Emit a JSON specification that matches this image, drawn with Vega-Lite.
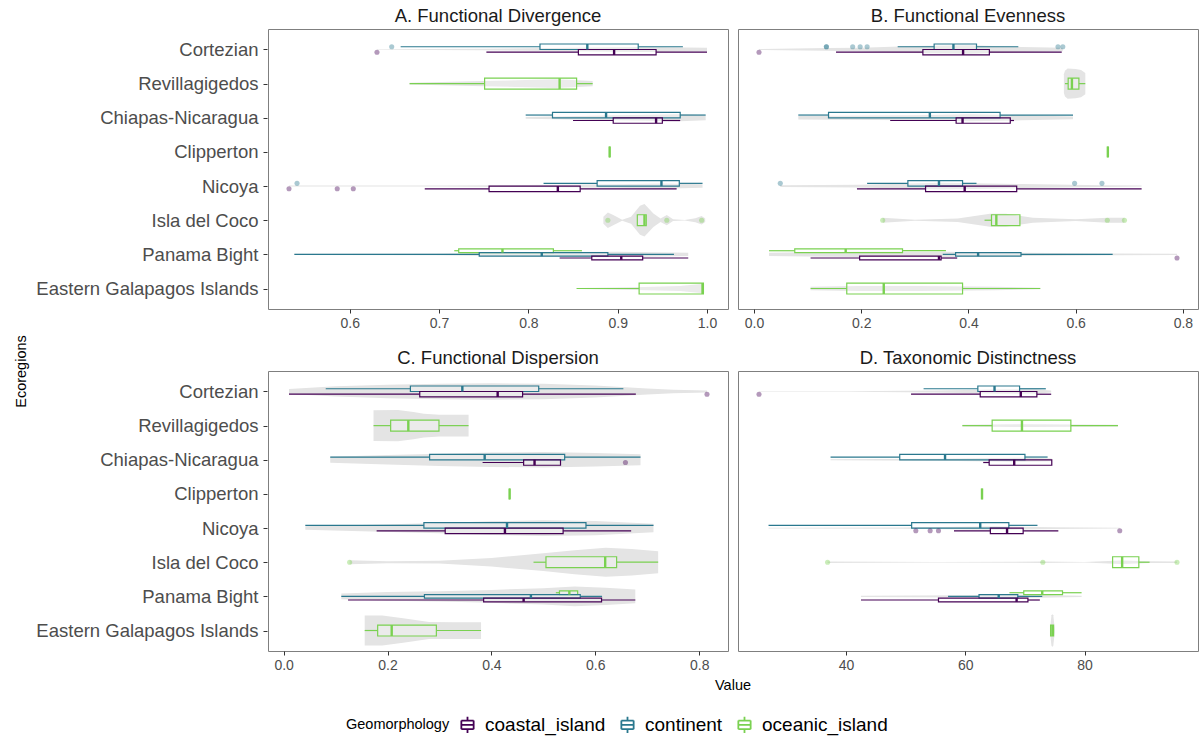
{
  "$schema": "https://vega.github.io/schema/vega-lite/v6.json",
  "background": "white",
  "padding": {"left": 14, "right": 2, "top": 6, "bottom": 0},
  "data": {"values": [
    {"kind":"b","metric":"A. Functional Divergence","eco":"Cortezian","geo":"continent","lo":0.657,"q1":0.813,"med":0.866,"q3":0.923,"hi":0.973,"out":[0.647]},
    {"kind":"b","metric":"A. Functional Divergence","eco":"Cortezian","geo":"coastal_island","lo":0.753,"q1":0.856,"med":0.896,"q3":0.943,"hi":1.0,"out":[0.6305]},
    {"kind":"b","metric":"A. Functional Divergence","eco":"Revillagigedos","geo":"oceanic_island","lo":0.667,"q1":0.751,"med":0.835,"q3":0.854,"hi":0.872},
    {"kind":"b","metric":"A. Functional Divergence","eco":"Chiapas-Nicaragua","geo":"continent","lo":0.797,"q1":0.827,"med":0.887,"q3":0.970,"hi":0.9985},
    {"kind":"b","metric":"A. Functional Divergence","eco":"Chiapas-Nicaragua","geo":"coastal_island","lo":0.850,"q1":0.895,"med":0.943,"q3":0.950,"hi":0.970},
    {"kind":"b","metric":"A. Functional Divergence","eco":"Clipperton","geo":"oceanic_island","lo":0.891,"q1":0.891,"med":0.891,"q3":0.891,"hi":0.891},
    {"kind":"b","metric":"A. Functional Divergence","eco":"Nicoya","geo":"continent","lo":0.817,"q1":0.877,"med":0.949,"q3":0.969,"hi":0.995,"out":[0.541]},
    {"kind":"b","metric":"A. Functional Divergence","eco":"Nicoya","geo":"coastal_island","lo":0.684,"q1":0.756,"med":0.833,"q3":0.858,"hi":0.966,"out":[0.532,0.586,0.604]},
    {"kind":"b","metric":"A. Functional Divergence","eco":"Isla del Coco","geo":"oceanic_island","lo":0.922,"q1":0.922,"med":0.930,"q3":0.932,"hi":0.932,"out":[0.889,0.955,0.994]},
    {"kind":"b","metric":"A. Functional Divergence","eco":"Panama Bight","geo":"oceanic_island","lo":0.717,"q1":0.722,"med":0.771,"q3":0.828,"hi":0.860},
    {"kind":"b","metric":"A. Functional Divergence","eco":"Panama Bight","geo":"continent","lo":0.538,"q1":0.745,"med":0.815,"q3":0.889,"hi":0.963},
    {"kind":"b","metric":"A. Functional Divergence","eco":"Panama Bight","geo":"coastal_island","lo":0.835,"q1":0.871,"med":0.904,"q3":0.928,"hi":0.979},
    {"kind":"b","metric":"A. Functional Divergence","eco":"Eastern Galapagos Islands","geo":"oceanic_island","lo":0.854,"q1":0.924,"med":0.995,"q3":0.996,"hi":0.996},

    {"kind":"b","metric":"B. Functional Evenness","eco":"Cortezian","geo":"continent","lo":0.268,"q1":0.336,"med":0.372,"q3":0.415,"hi":0.493,"out":[0.135,0.135,0.184,0.198,0.211,0.567,0.576]},
    {"kind":"b","metric":"B. Functional Evenness","eco":"Cortezian","geo":"coastal_island","lo":0.153,"q1":0.315,"med":0.390,"q3":0.439,"hi":0.574,"out":[0.0093]},
    {"kind":"b","metric":"B. Functional Evenness","eco":"Revillagigedos","geo":"oceanic_island","lo":0.580,"q1":0.586,"med":0.593,"q3":0.606,"hi":0.618},
    {"kind":"b","metric":"B. Functional Evenness","eco":"Chiapas-Nicaragua","geo":"continent","lo":0.0826,"q1":0.139,"med":0.328,"q3":0.459,"hi":0.595},
    {"kind":"b","metric":"B. Functional Evenness","eco":"Chiapas-Nicaragua","geo":"coastal_island","lo":0.254,"q1":0.377,"med":0.389,"q3":0.478,"hi":0.485},
    {"kind":"b","metric":"B. Functional Evenness","eco":"Clipperton","geo":"oceanic_island","lo":0.660,"q1":0.660,"med":0.660,"q3":0.660,"hi":0.660},
    {"kind":"b","metric":"B. Functional Evenness","eco":"Nicoya","geo":"continent","lo":0.211,"q1":0.287,"med":0.345,"q3":0.389,"hi":0.415,"out":[0.049,0.598,0.649]},
    {"kind":"b","metric":"B. Functional Evenness","eco":"Nicoya","geo":"coastal_island","lo":0.192,"q1":0.320,"med":0.393,"q3":0.490,"hi":0.723},
    {"kind":"b","metric":"B. Functional Evenness","eco":"Isla del Coco","geo":"oceanic_island","lo":0.430,"q1":0.443,"med":0.452,"q3":0.496,"hi":0.496,"out":[0.240,0.659,0.691]},
    {"kind":"b","metric":"B. Functional Evenness","eco":"Panama Bight","geo":"oceanic_island","lo":0.028,"q1":0.076,"med":0.171,"q3":0.277,"hi":0.358},
    {"kind":"b","metric":"B. Functional Evenness","eco":"Panama Bight","geo":"continent","lo":0.352,"q1":0.376,"med":0.418,"q3":0.498,"hi":0.669},
    {"kind":"b","metric":"B. Functional Evenness","eco":"Panama Bight","geo":"coastal_island","lo":0.1055,"q1":0.197,"med":0.345,"q3":0.349,"hi":0.379,"out":[0.789]},
    {"kind":"b","metric":"B. Functional Evenness","eco":"Eastern Galapagos Islands","geo":"oceanic_island","lo":0.1055,"q1":0.173,"med":0.242,"q3":0.389,"hi":0.534},

    {"kind":"b","metric":"C. Functional Dispersion","eco":"Cortezian","geo":"continent","lo":0.081,"q1":0.244,"med":0.344,"q3":0.491,"hi":0.654},
    {"kind":"b","metric":"C. Functional Dispersion","eco":"Cortezian","geo":"coastal_island","lo":0.0103,"q1":0.262,"med":0.412,"q3":0.460,"hi":0.678,"out":[0.815]},
    {"kind":"b","metric":"C. Functional Dispersion","eco":"Revillagigedos","geo":"oceanic_island","lo":0.173,"q1":0.206,"med":0.240,"q3":0.299,"hi":0.356},
    {"kind":"b","metric":"C. Functional Dispersion","eco":"Chiapas-Nicaragua","geo":"continent","lo":0.0897,"q1":0.281,"med":0.387,"q3":0.541,"hi":0.687},
    {"kind":"b","metric":"C. Functional Dispersion","eco":"Chiapas-Nicaragua","geo":"coastal_island","lo":0.383,"q1":0.462,"med":0.483,"q3":0.533,"hi":0.533,"out":[0.658]},
    {"kind":"b","metric":"C. Functional Dispersion","eco":"Clipperton","geo":"oceanic_island","lo":0.435,"q1":0.435,"med":0.435,"q3":0.435,"hi":0.435},
    {"kind":"b","metric":"C. Functional Dispersion","eco":"Nicoya","geo":"continent","lo":0.0417,"q1":0.270,"med":0.430,"q3":0.582,"hi":0.712},
    {"kind":"b","metric":"C. Functional Dispersion","eco":"Nicoya","geo":"coastal_island","lo":0.179,"q1":0.311,"med":0.426,"q3":0.538,"hi":0.669},
    {"kind":"b","metric":"C. Functional Dispersion","eco":"Isla del Coco","geo":"oceanic_island","lo":0.481,"q1":0.505,"med":0.619,"q3":0.641,"hi":0.721,"out":[0.127]},
    {"kind":"b","metric":"C. Functional Dispersion","eco":"Panama Bight","geo":"oceanic_island","lo":0.524,"q1":0.531,"med":0.550,"q3":0.566,"hi":0.566},
    {"kind":"b","metric":"C. Functional Dispersion","eco":"Panama Bight","geo":"continent","lo":0.111,"q1":0.271,"med":0.476,"q3":0.571,"hi":0.613},
    {"kind":"b","metric":"C. Functional Dispersion","eco":"Panama Bight","geo":"coastal_island","lo":0.124,"q1":0.385,"med":0.462,"q3":0.612,"hi":0.677},
    {"kind":"b","metric":"C. Functional Dispersion","eco":"Eastern Galapagos Islands","geo":"oceanic_island","lo":0.156,"q1":0.181,"med":0.208,"q3":0.294,"hi":0.380},

    {"kind":"b","metric":"D. Taxonomic Distinctness","eco":"Cortezian","geo":"continent","lo":53.0,"q1":62.1,"med":64.9,"q3":69.1,"hi":73.5},
    {"kind":"b","metric":"D. Taxonomic Distinctness","eco":"Cortezian","geo":"coastal_island","lo":50.9,"q1":62.5,"med":69.3,"q3":72.0,"hi":74.4,"out":[25.4]},
    {"kind":"b","metric":"D. Taxonomic Distinctness","eco":"Revillagigedos","geo":"oceanic_island","lo":59.5,"q1":64.5,"med":69.5,"q3":77.7,"hi":85.6},
    {"kind":"b","metric":"D. Taxonomic Distinctness","eco":"Chiapas-Nicaragua","geo":"continent","lo":37.4,"q1":49.0,"med":56.6,"q3":70.0,"hi":73.8},
    {"kind":"b","metric":"D. Taxonomic Distinctness","eco":"Chiapas-Nicaragua","geo":"coastal_island","lo":63.0,"q1":64.0,"med":68.2,"q3":74.5,"hi":74.5},
    {"kind":"b","metric":"D. Taxonomic Distinctness","eco":"Clipperton","geo":"oceanic_island","lo":62.8,"q1":62.8,"med":62.8,"q3":62.8,"hi":62.8},
    {"kind":"b","metric":"D. Taxonomic Distinctness","eco":"Nicoya","geo":"continent","lo":27.0,"q1":51.0,"med":62.5,"q3":67.3,"hi":72.1},
    {"kind":"b","metric":"D. Taxonomic Distinctness","eco":"Nicoya","geo":"coastal_island","lo":58.1,"q1":64.2,"med":67.0,"q3":69.7,"hi":75.6,"out":[51.7,54.1,55.5,85.9]},
    {"kind":"b","metric":"D. Taxonomic Distinctness","eco":"Isla del Coco","geo":"oceanic_island","lo":84.7,"q1":84.7,"med":86.3,"q3":89.1,"hi":90.9,"out":[36.9,73.0,95.5]},
    {"kind":"b","metric":"D. Taxonomic Distinctness","eco":"Panama Bight","geo":"oceanic_island","lo":67.4,"q1":69.8,"med":72.9,"q3":76.3,"hi":79.5},
    {"kind":"b","metric":"D. Taxonomic Distinctness","eco":"Panama Bight","geo":"continent","lo":57.1,"q1":62.3,"med":65.6,"q3":68.8,"hi":72.9},
    {"kind":"b","metric":"D. Taxonomic Distinctness","eco":"Panama Bight","geo":"coastal_island","lo":42.5,"q1":55.5,"med":68.6,"q3":70.5,"hi":72.5},
    {"kind":"b","metric":"D. Taxonomic Distinctness","eco":"Eastern Galapagos Islands","geo":"oceanic_island","lo":74.3,"q1":74.3,"med":74.6,"q3":74.8,"hi":74.8},

    {"kind":"v","metric":"A. Functional Divergence","eco":"Cortezian","xs":[0.6305,0.75,0.85,0.93,1.0],"ws":[0.02,0.04,0.1,0.15,0.1]},
    {"kind":"v","metric":"A. Functional Divergence","eco":"Revillagigedos","xs":[0.667,0.75,0.83,0.872],"ws":[0.05,0.15,0.25,0.15]},
    {"kind":"v","metric":"A. Functional Divergence","eco":"Chiapas-Nicaragua","xs":[0.797,0.9,0.97,0.9985],"ws":[0.05,0.15,0.2,0.15]},
    {"kind":"v","metric":"A. Functional Divergence","eco":"Nicoya","xs":[0.532,0.6,0.7,0.8,0.9,0.95,0.995],"ws":[0.03,0.03,0.03,0.06,0.1,0.15,0.1]},
    {"kind":"v","metric":"A. Functional Divergence","eco":"Isla del Coco","xs":[0.884,0.889,0.895,0.905,0.915,0.925,0.93,0.94,0.948,0.955,0.962,0.975,0.987,0.994,0.998],"ws":[0.2,0.45,0.3,0.03,0.2,0.85,0.95,0.4,0.1,0.3,0.05,0.02,0.12,0.25,0.1]},
    {"kind":"v","metric":"A. Functional Divergence","eco":"Panama Bight","xs":[0.538,0.7,0.8,0.9,0.979],"ws":[0.03,0.05,0.12,0.15,0.1]},
    {"kind":"v","metric":"A. Functional Divergence","eco":"Eastern Galapagos Islands","xs":[0.854,0.92,0.97,0.996],"ws":[0.03,0.08,0.15,0.28]},

    {"kind":"v","metric":"B. Functional Evenness","eco":"Cortezian","xs":[0.0093,0.135,0.2,0.3,0.4,0.5,0.576],"ws":[0.03,0.08,0.1,0.2,0.25,0.15,0.1]},
    {"kind":"v","metric":"B. Functional Evenness","eco":"Revillagigedos","xs":[0.578,0.58,0.585,0.6,0.61,0.618],"ws":[0.55,0.75,0.88,0.86,0.8,0.62]},
    {"kind":"v","metric":"B. Functional Evenness","eco":"Chiapas-Nicaragua","xs":[0.0826,0.15,0.3,0.4,0.5,0.595],"ws":[0.1,0.12,0.15,0.2,0.15,0.08]},
    {"kind":"v","metric":"B. Functional Evenness","eco":"Nicoya","xs":[0.049,0.2,0.35,0.5,0.65,0.723],"ws":[0.05,0.08,0.2,0.12,0.05,0.03]},
    {"kind":"v","metric":"B. Functional Evenness","eco":"Isla del Coco","xs":[0.24,0.3,0.38,0.44,0.47,0.52,0.6,0.66,0.691],"ws":[0.15,0.03,0.1,0.38,0.38,0.15,0.05,0.15,0.15]},
    {"kind":"v","metric":"B. Functional Evenness","eco":"Panama Bight","xs":[0.028,0.1,0.2,0.35,0.5,0.67,0.789],"ws":[0.1,0.12,0.15,0.15,0.1,0.05,0.03]},
    {"kind":"v","metric":"B. Functional Evenness","eco":"Eastern Galapagos Islands","xs":[0.1055,0.2,0.3,0.45,0.534],"ws":[0.1,0.15,0.15,0.1,0.05]},

    {"kind":"v","metric":"C. Functional Dispersion","eco":"Cortezian","xs":[0.0103,0.1,0.2,0.3,0.4,0.5,0.6,0.7,0.75,0.815],"ws":[0.15,0.3,0.4,0.45,0.48,0.45,0.35,0.18,0.1,0.06]},
    {"kind":"v","metric":"C. Functional Dispersion","eco":"Revillagigedos","xs":[0.173,0.22,0.25,0.27,0.3,0.356],"ws":[0.9,0.92,0.8,0.7,0.64,0.64]},
    {"kind":"v","metric":"C. Functional Dispersion","eco":"Chiapas-Nicaragua","xs":[0.0897,0.2,0.3,0.4,0.5,0.6,0.687],"ws":[0.18,0.28,0.36,0.42,0.45,0.4,0.32]},
    {"kind":"v","metric":"C. Functional Dispersion","eco":"Nicoya","xs":[0.0417,0.15,0.3,0.4,0.5,0.6,0.712],"ws":[0.1,0.18,0.3,0.4,0.46,0.42,0.25]},
    {"kind":"v","metric":"C. Functional Dispersion","eco":"Isla del Coco","xs":[0.127,0.2,0.3,0.4,0.5,0.56,0.62,0.67,0.721],"ws":[0.12,0.06,0.08,0.25,0.52,0.7,0.85,0.78,0.64]},
    {"kind":"v","metric":"C. Functional Dispersion","eco":"Panama Bight","xs":[0.111,0.2,0.3,0.4,0.5,0.56,0.62,0.677],"ws":[0.17,0.25,0.3,0.38,0.48,0.58,0.5,0.4]},
    {"kind":"v","metric":"C. Functional Dispersion","eco":"Eastern Galapagos Islands","xs":[0.156,0.19,0.23,0.28,0.33,0.38],"ws":[0.88,0.88,0.72,0.5,0.49,0.49]},

    {"kind":"v","metric":"D. Taxonomic Distinctness","eco":"Cortezian","xs":[25.4,40,55,65,72,74.4],"ws":[0.02,0.02,0.06,0.12,0.12,0.06]},
    {"kind":"v","metric":"D. Taxonomic Distinctness","eco":"Revillagigedos","xs":[59.5,70,85.6],"ws":[0.05,0.08,0.05]},
    {"kind":"v","metric":"D. Taxonomic Distinctness","eco":"Chiapas-Nicaragua","xs":[37.4,55,70,74.5],"ws":[0.03,0.06,0.12,0.08]},
    {"kind":"v","metric":"D. Taxonomic Distinctness","eco":"Nicoya","xs":[27,50,65,75,85.9],"ws":[0.02,0.04,0.1,0.05,0.02]},
    {"kind":"v","metric":"D. Taxonomic Distinctness","eco":"Isla del Coco","xs":[36.9,55,73,80,86,91,95.5],"ws":[0.04,0.01,0.04,0.02,0.1,0.05,0.04]},
    {"kind":"v","metric":"D. Taxonomic Distinctness","eco":"Panama Bight","xs":[42.5,60,70,79.5],"ws":[0.03,0.06,0.1,0.04]},
    {"kind":"v","metric":"D. Taxonomic Distinctness","eco":"Eastern Galapagos Islands","xs":[74.2,74.45,74.6,74.75,75.0],"ws":[0.1,0.9,0.95,0.9,0.1]}
  ]},
  "title": {"text": "Ecoregions", "orient": "left", "anchor": "middle", "fontSize": 14.5, "fontWeight": "normal", "color": "#000000", "offset": 6},
  "transform": [
    {"joinaggregate": [{"op": "count", "as": "n"}], "groupby": ["metric", "eco", "kind"]},
    {"window": [{"op": "row_number", "as": "k"}], "groupby": ["metric", "eco", "kind"], "sort": [{"field": "geo", "order": "ascending"}]},
    {"calculate": "indexof(['Cortezian','Revillagigedos','Chiapas-Nicaragua','Clipperton','Nicoya','Isla del Coco','Panama Bight','Eastern Galapagos Islands'], datum.eco)", "as": "idx"},
    {"calculate": "datum.idx + 0.32 * ((datum.n + 1) / 2 - datum.k) / datum.n", "as": "yc"},
    {"calculate": "datum.yc - 0.16 / datum.n", "as": "y0"},
    {"calculate": "datum.yc + 0.16 / datum.n", "as": "y1"}
  ],
  "facet": {"field": "metric", "type": "nominal", "title": "Value",
    "sort": ["A. Functional Divergence", "B. Functional Evenness", "C. Functional Dispersion", "D. Taxonomic Distinctness"],
    "header": {"labelFontSize": 18.5, "labelColor": "#1a1a1a", "labelPadding": 4,
      "titleOrient": "bottom", "titleFontSize": 14.5, "titleFontWeight": "normal", "titleColor": "#000000", "titlePadding": 6}},
  "columns": 2,
  "spacing": {"row": 17, "column": 8},
  "resolve": {"scale": {"x": "independent"}},
  "spec": {
    "width": 460,
    "height": 280,
    "layer": [
      {
        "transform": [{"filter": "datum.kind == 'v'"}, {"flatten": ["xs", "ws"], "as": ["x", "w"]},
          {"calculate": "datum.idx - datum.w / 2", "as": "v0"}, {"calculate": "datum.idx + datum.w / 2", "as": "v1"}],
        "mark": {"type": "area", "color": "#e4e4e4", "orient": "vertical"},
        "encoding": {
          "x": {"field": "x", "type": "quantitative",
            "scale": {"nice": false, "zero": false, "padding": 21},
            "axis": {"title": null, "tickCount": 5, "labelExpr": "abs(datum.value) >= 10 ? format(datum.value, 'd') : format(datum.value, '.1f')"}},
          "y": {"field": "v0", "type": "quantitative",
            "scale": {"domain": [-0.6, 7.6], "reverse": true, "nice": false, "zero": false},
            "axis": {"title": null, "values": [0, 1, 2, 3, 4, 5, 6, 7], "tickCount": 8, "labelFontSize": 18.5, "labelLimit": 0, "labelPadding": 5, "labelOverlap": false, "labelBound": false, "labelFlush": false,
              "labelExpr": "['Cortezian','Revillagigedos','Chiapas-Nicaragua','Clipperton','Nicoya','Isla del Coco','Panama Bight','Eastern Galapagos Islands'][datum.value]"}},
          "y2": {"field": "v1"},
          "detail": {"field": "eco"}
        }
      },
      {
        "transform": [{"filter": "datum.kind == 'b'"}],
        "mark": {"type": "rule", "strokeWidth": 1.2},
        "encoding": {
          "x": {"field": "lo", "type": "quantitative"},
          "x2": {"field": "q1"},
          "y": {"field": "yc", "type": "quantitative",
            "axis": {"title": null, "values": [0, 1, 2, 3, 4, 5, 6, 7], "tickCount": 8, "labelFontSize": 18.5, "labelLimit": 0, "labelPadding": 5, "labelOverlap": false, "labelBound": false, "labelFlush": false,
              "labelExpr": "['Cortezian','Revillagigedos','Chiapas-Nicaragua','Clipperton','Nicoya','Isla del Coco','Panama Bight','Eastern Galapagos Islands'][datum.value]"}},
          "stroke": {"field": "geo", "type": "nominal",
            "scale": {"domain": ["coastal_island", "continent", "oceanic_island"], "range": ["#440154", "#2A788E", "#7AD151"]},
            "legend": {"title": "Geomorphology", "orient": "bottom", "direction": "horizontal", "titleOrient": "left",
              "symbolType": "M-0.6,-0.42H0.6 M0.6,-0.42V0.42 M0.6,0.42H-0.6 M-0.6,0.42V-0.42 M-0.6,0H0.6 M0,-0.42V-0.8 M0,0.42V0.8",
              "symbolSize": 420, "symbolStrokeWidth": 1.8, "symbolFillColor": "white", "symbolOpacity": 1}}
        }
      },
      {
        "transform": [{"filter": "datum.kind == 'b'"}],
        "mark": {"type": "rule", "strokeWidth": 1.2},
        "encoding": {
          "x": {"field": "q3", "type": "quantitative"},
          "x2": {"field": "hi"},
          "y": {"field": "yc", "type": "quantitative",
            "axis": {"title": null, "values": [0, 1, 2, 3, 4, 5, 6, 7], "tickCount": 8, "labelFontSize": 18.5, "labelLimit": 0, "labelPadding": 5, "labelOverlap": false, "labelBound": false, "labelFlush": false,
              "labelExpr": "['Cortezian','Revillagigedos','Chiapas-Nicaragua','Clipperton','Nicoya','Isla del Coco','Panama Bight','Eastern Galapagos Islands'][datum.value]"}},
          "stroke": {"field": "geo", "type": "nominal",
            "legend": {"title": "Geomorphology", "orient": "bottom", "direction": "horizontal", "titleOrient": "left",
              "symbolType": "M-0.6,-0.42H0.6 M0.6,-0.42V0.42 M0.6,0.42H-0.6 M-0.6,0.42V-0.42 M-0.6,0H0.6 M0,-0.42V-0.8 M0,0.42V0.8",
              "symbolSize": 420, "symbolStrokeWidth": 1.8, "symbolFillColor": "white", "symbolOpacity": 1}}
        }
      },
      {
        "transform": [{"filter": "datum.kind == 'b'"}],
        "mark": {"type": "rect", "fill": "white", "fillOpacity": 0.25, "strokeWidth": 1.2},
        "encoding": {
          "x": {"field": "q1", "type": "quantitative"},
          "x2": {"field": "q3"},
          "y": {"field": "y0", "type": "quantitative",
            "axis": {"title": null, "values": [0, 1, 2, 3, 4, 5, 6, 7], "tickCount": 8, "labelFontSize": 18.5, "labelLimit": 0, "labelPadding": 5, "labelOverlap": false, "labelBound": false, "labelFlush": false,
              "labelExpr": "['Cortezian','Revillagigedos','Chiapas-Nicaragua','Clipperton','Nicoya','Isla del Coco','Panama Bight','Eastern Galapagos Islands'][datum.value]"}},
          "y2": {"field": "y1"},
          "stroke": {"field": "geo", "type": "nominal",
            "legend": {"title": "Geomorphology", "orient": "bottom", "direction": "horizontal", "titleOrient": "left",
              "symbolType": "M-0.6,-0.42H0.6 M0.6,-0.42V0.42 M0.6,0.42H-0.6 M-0.6,0.42V-0.42 M-0.6,0H0.6 M0,-0.42V-0.8 M0,0.42V0.8",
              "symbolSize": 420, "symbolStrokeWidth": 1.8, "symbolFillColor": "white", "symbolOpacity": 1}}
        }
      },
      {
        "transform": [{"filter": "datum.kind == 'b'"}],
        "mark": {"type": "rule", "strokeWidth": 2.4},
        "encoding": {
          "x": {"field": "med", "type": "quantitative"},
          "y": {"field": "y0", "type": "quantitative",
            "axis": {"title": null, "values": [0, 1, 2, 3, 4, 5, 6, 7], "tickCount": 8, "labelFontSize": 18.5, "labelLimit": 0, "labelPadding": 5, "labelOverlap": false, "labelBound": false, "labelFlush": false,
              "labelExpr": "['Cortezian','Revillagigedos','Chiapas-Nicaragua','Clipperton','Nicoya','Isla del Coco','Panama Bight','Eastern Galapagos Islands'][datum.value]"}},
          "y2": {"field": "y1"},
          "stroke": {"field": "geo", "type": "nominal",
            "legend": {"title": "Geomorphology", "orient": "bottom", "direction": "horizontal", "titleOrient": "left",
              "symbolType": "M-0.6,-0.42H0.6 M0.6,-0.42V0.42 M0.6,0.42H-0.6 M-0.6,0.42V-0.42 M-0.6,0H0.6 M0,-0.42V-0.8 M0,0.42V0.8",
              "symbolSize": 420, "symbolStrokeWidth": 1.8, "symbolFillColor": "white", "symbolOpacity": 1}}
        }
      },
      {
        "transform": [{"filter": "datum.kind == 'b' && isArray(datum.out)"}, {"flatten": ["out"]}],
        "mark": {"type": "circle", "size": 26, "opacity": 0.4},
        "encoding": {
          "x": {"field": "out", "type": "quantitative"},
          "y": {"field": "yc", "type": "quantitative",
            "axis": {"title": null, "values": [0, 1, 2, 3, 4, 5, 6, 7], "tickCount": 8, "labelFontSize": 18.5, "labelLimit": 0, "labelPadding": 5, "labelOverlap": false, "labelBound": false, "labelFlush": false,
              "labelExpr": "['Cortezian','Revillagigedos','Chiapas-Nicaragua','Clipperton','Nicoya','Isla del Coco','Panama Bight','Eastern Galapagos Islands'][datum.value]"}},
          "color": {"field": "geo", "type": "nominal", "scale": {"domain": ["coastal_island", "continent", "oceanic_island"], "range": ["#440154", "#2A788E", "#7AD151"]}, "legend": null}
        }
      }
    ]
  },
  "config": {
    "font": "Liberation Sans",
    "view": {"stroke": "#7f7f7f", "strokeWidth": 1},
    "axis": {"grid": false, "domain": false, "tickColor": "#333333", "tickSize": 4, "labelColor": "#4d4d4d", "labelFontSize": 14, "labelPadding": 3},
    "axisY": {"labelOverlap": false},
    "legend": {
      "titleFontSize": 14.5, "titleFontWeight": "normal", "titleColor": "#000000", "titlePadding": 6,
      "labelFontSize": 19, "labelColor": "#000000", "labelOffset": 6,
      "columnPadding": 10, "offset": 20,
      "layout": {"bottom": {"anchor": "middle"}}
    }
  }
}
